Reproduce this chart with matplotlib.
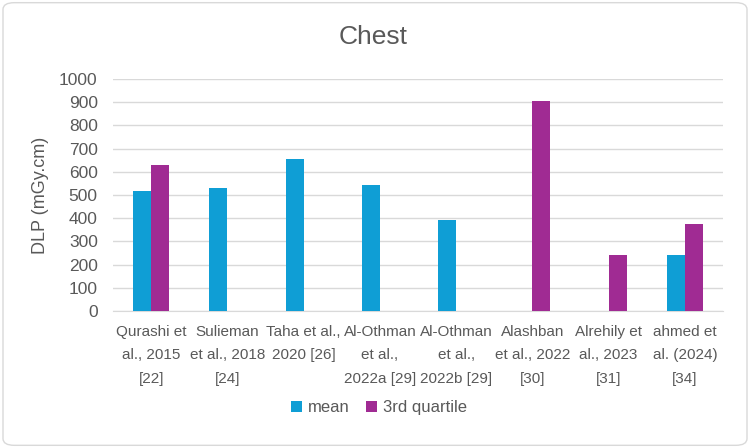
import numpy as np
import matplotlib.pyplot as plt
from matplotlib.patches import FancyBboxPatch

plt.rcParams['font.family'] = ['Liberation Sans Narrow', 'Liberation Sans', 'DejaVu Sans']

studies = ["Qurashi et\nal., 2015\n[22]", "Sulieman\net al., 2018\n[24]", "Taha et al.,\n2020 [26]",
           "Al-Othman\net al.,\n2022a [29]", "Al-Othman\net al.,\n2022b [29]",
           "Alashban\net al., 2022\n[30]", "Alrehily et\nal., 2023\n[31]", "ahmed et\nal. (2024)\n[34]"]
mean_dlp = [518, 528, 654, 545, 392, np.nan, np.nan, 240]
q3_dlp = [628, np.nan, np.nan, np.nan, np.nan, 905, 240, 373]

blue = '#0F9ED5'
purple = '#A02B93'
txt = '#595959'

fig = plt.figure(figsize=(7.5, 4.48), dpi=100)
ax = fig.add_axes([0.1507, 0.3058, 0.8133, 0.5179])

x = np.arange(len(studies))
w = 0.236
ax.bar(x - w/2, mean_dlp, w, color=blue, label='mean', zorder=3)
ax.bar(x + w/2, q3_dlp, w, color=purple, label='3rd quartile', zorder=3)

ax.set_xlim(-0.5, len(studies) - 0.5)
ax.set_ylim(0, 1000)
ax.set_yticks(np.arange(0, 1001, 100))
ax.grid(axis='y', color='#D9D9D9', linewidth=1, zorder=0)
for s in ['top', 'right', 'left']:
    ax.spines[s].set_visible(False)
ax.spines['bottom'].set_color('#D9D9D9')
ax.tick_params(axis='y', length=0, colors=txt, labelsize=12.5, pad=11)
ax.set_xticks(x)
ax.set_xticklabels(studies, linespacing=1.85)
ax.tick_params(axis='x', length=0, colors=txt, labelsize=11, pad=10)

ax.set_ylabel('DLP (mGy.cm)', color=txt, fontsize=13, labelpad=7)
fig.text(0.498, 0.918, 'Chest', ha='center', va='center', color=txt, fontsize=19)

ax.legend(loc='center', bbox_to_anchor=(0.505, 0.09), bbox_transform=fig.transFigure,
          ncol=2, frameon=False, fontsize=12, handlelength=0.65, handleheight=0.65,
          handletextpad=0.35, columnspacing=1.0, labelcolor=txt)

border = FancyBboxPatch((0.004, 0.006), 0.992, 0.988, boxstyle='round,pad=0,rounding_size=0.015',
                        transform=fig.transFigure, fill=False, edgecolor='#D9D9D9', linewidth=1)
fig.patches.append(border)

fig.savefig('out.png', dpi=100)
